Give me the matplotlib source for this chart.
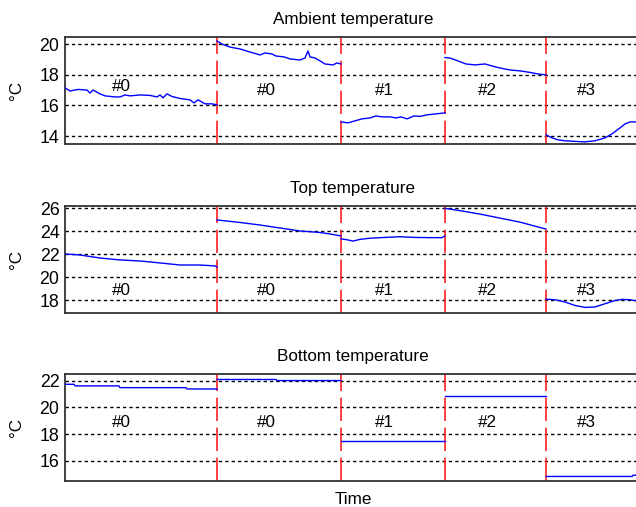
import matplotlib.pyplot as plt

plt.rcParams["font.family"] = ["Liberation Sans", "DejaVu Sans"]

# time axis (arbitrary units), test boundaries and labels
t_end = 576
boundaries = [152, 276, 380, 481]
run_labels = ["#0", "#0", "#1", "#2", "#3"]
label_t = [56, 201, 319, 422, 521]

titles = ["Ambient temperature", "Top temperature", "Bottom temperature"]
y_limits = [(13.48, 20.46), (16.92, 26.23), (14.49, 22.49)]
y_ticks = [[14, 16, 18, 20], [18, 20, 22, 24, 26], [16, 18, 20, 22]]
label_y = [[17.25, 16.95, 16.95, 16.95, 16.95],
           [18.88] * 5,
           [18.9] * 5]

# ambient temperature, one (t, value) list per run
ambient = [
    ([0, 5, 13, 22, 25, 28, 35, 40, 50, 55, 60, 65, 75, 85, 92, 95, 98, 102,
      107, 115, 125, 129, 133, 140, 147, 152],
     [17.14, 16.94, 17.04, 17.0, 16.8, 17.0, 16.75, 16.62, 16.55, 16.55,
      16.68, 16.62, 16.68, 16.65, 16.55, 16.68, 16.49, 16.75, 16.58, 16.45,
      16.36, 16.16, 16.36, 16.1, 16.1, 16.03]),
    ([152, 157, 165, 175, 185, 195, 200, 207, 211, 219, 225, 235, 240, 243,
      245, 250, 255, 260, 268, 272, 276],
     [20.2, 20.0, 19.8, 19.68, 19.48, 19.29, 19.42, 19.35, 19.22, 19.16,
      19.03, 18.96, 19.09, 19.55, 19.16, 19.09, 18.9, 18.7, 18.64, 18.77,
      18.7]),
    ([276, 283, 290, 297, 305, 311, 317, 325, 331, 336, 342, 349, 355, 362,
      370, 380],
     [14.92, 14.86, 14.99, 15.12, 15.18, 15.31, 15.25, 15.25, 15.18, 15.25,
      15.12, 15.31, 15.28, 15.38, 15.44, 15.51]),
    ([380, 385, 393, 401, 410, 420, 427, 435, 445, 455, 465, 473, 481],
     [19.12, 19.09, 18.9, 18.7, 18.64, 18.7, 18.57, 18.44, 18.31, 18.25,
      18.15, 18.05, 17.99]),
    ([481, 487, 493, 500, 510, 520, 530, 540, 547, 555, 560, 565, 571, 576],
     [14.08, 13.88, 13.75, 13.69, 13.65, 13.62, 13.69, 13.88, 14.14, 14.53,
      14.79, 14.92, 14.92, 14.92]),
]

top = [
    ([0, 15, 35, 55, 75, 95, 115, 135, 150, 152],
     [22.03, 21.94, 21.68, 21.51, 21.42, 21.25, 21.07, 21.07, 20.99, 20.9]),
    ([152, 175, 195, 215, 235, 255, 265, 276],
     [24.99, 24.77, 24.55, 24.29, 24.03, 23.9, 23.77, 23.6]),
    ([276, 283, 288, 295, 305, 320, 335, 350, 365, 377, 380],
     [23.35, 23.25, 23.15, 23.3, 23.4, 23.47, 23.53, 23.47, 23.45, 23.45,
      23.6]),
    ([380, 395, 415, 435, 455, 470, 481],
     [26.0, 25.8, 25.5, 25.15, 24.8, 24.45, 24.2]),
    ([481, 490, 500, 510, 520, 530, 540, 550, 557, 565, 571, 576],
     [18.1, 18.05, 17.85, 17.55, 17.38, 17.42, 17.7, 17.98, 18.08, 18.05,
      17.95, 17.95]),
]

bottom = [
    ([0, 9, 10, 54, 55, 121, 122, 152],
     [21.72, 21.72, 21.6, 21.6, 21.47, 21.47, 21.37, 21.37]),
    ([152, 211, 212, 276],
     [22.08, 22.08, 22.0, 22.0]),
    ([276, 380], [17.49, 17.49]),
    ([380, 481], [20.88, 20.88]),
    ([481, 567, 568, 576], [14.83, 14.83, 14.92, 14.92]),
]

series = [ambient, top, bottom]

fig = plt.figure(figsize=(6.36, 5.07), dpi=100)
ax_left = 65 / 636
ax_width = 576 / 636
ax_height = 107 / 507
ax_bottoms = [1 - 144 / 507, 1 - 312.7 / 507, 1 - 481 / 507]
fs = 12.3

for i, segments in enumerate(series):
    ax = fig.add_axes([ax_left, ax_bottoms[i], ax_width, ax_height])
    for tt, vv in segments:
        ax.plot(tt, vv, color="#0000ff", lw=1.0, zorder=3)
    for yt in y_ticks[i]:
        ax.axhline(yt, color="black", lw=1.0, ls=(0, (2.4, 2.2)), zorder=1)
    for b in boundaries:
        ax.axvline(b, color="#ff2020", lw=1.2, ls=(0, (14, 4)), zorder=2)
    for lt, ly, lab in zip(label_t, label_y[i], run_labels):
        ax.text(lt, ly, lab, ha="center", va="center", fontsize=fs,
                zorder=4)
    ax.set_xlim(0, t_end)
    ax.set_ylim(*y_limits[i])
    ax.set_yticks(y_ticks[i])
    ax.set_xticks([])
    ax.tick_params(axis="y", length=0, labelsize=12.8, pad=4)
    for side in ["top", "bottom", "left"]:
        ax.spines[side].set_linewidth(1.3)
        ax.spines[side].set_color("#333333")
    ax.spines["right"].set_visible(False)
    ax.set_ylabel("°C", fontsize=fs, labelpad=11)
    ax.set_title(titles[i], fontsize=fs, pad=9.5)
    if i == 2:
        ax.set_xlabel("Time", fontsize=fs, labelpad=8)

fig.savefig("out.png", dpi=100)
